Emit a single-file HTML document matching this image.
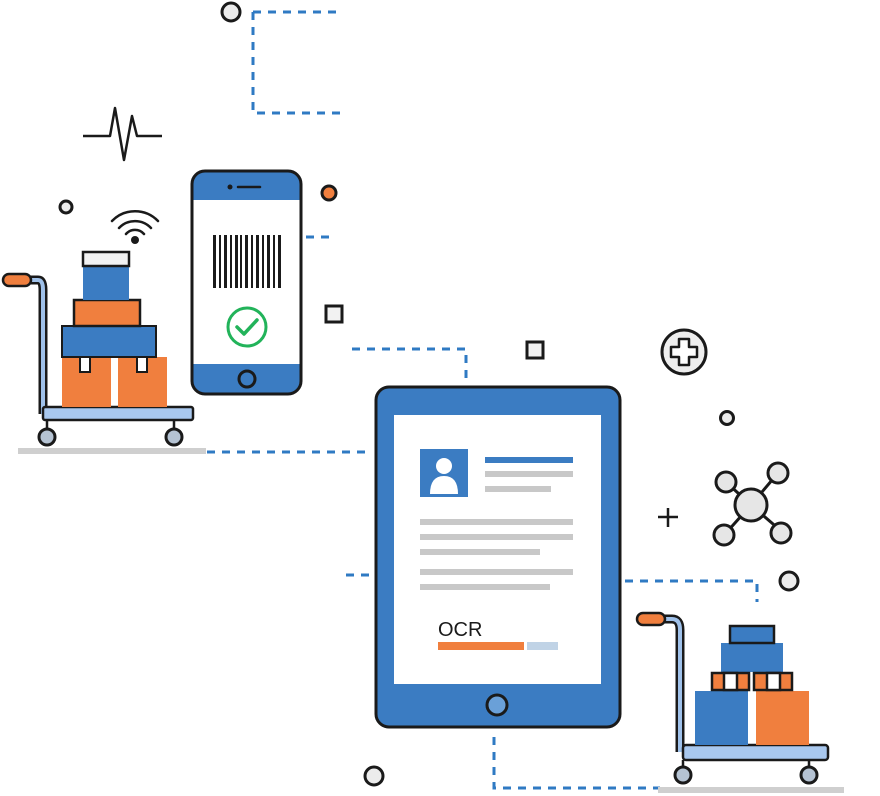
<!DOCTYPE html>
<html><head><meta charset="utf-8"><style>
html,body{margin:0;padding:0;background:#fff;}
svg{display:block;}
</style></head><body>
<svg width="880" height="796" viewBox="0 0 880 796" xmlns="http://www.w3.org/2000/svg">
<g fill="none" stroke="#2f7ac3" stroke-width="3" stroke-dasharray="8 7">
<path d="M253 12 H340 M253 12 V113 H340"/>
<path d="M306 237 H334"/>
<path d="M352 349 H466 V385"/>
<path d="M207 452 H372"/>
<path d="M346 575 H372"/>
<path d="M625 581 H757 V602"/>
<path d="M494 737 V788 H660"/>
</g>
<!-- misc circles -->
<g stroke="#1a1a1a" stroke-width="3" fill="#ececec">
<circle cx="231" cy="12" r="9"/>
<circle cx="66" cy="207" r="6"/>
<circle cx="727" cy="418" r="6.5"/>
<circle cx="789" cy="581" r="9"/>
<circle cx="374" cy="776" r="9"/>
</g>
<circle cx="329" cy="193" r="7" fill="#f07f3e" stroke="#1a1a1a" stroke-width="3"/>
<rect x="326" y="306" width="16" height="16" fill="#f2f2f2" stroke="#1a1a1a" stroke-width="3"/>
<rect x="527" y="342" width="16" height="16" fill="#f2f2f2" stroke="#1a1a1a" stroke-width="3"/>
<!-- heartbeat -->
<polyline points="83,136 110,136 115,108 124,160 132,116 137,136 162,136" fill="none" stroke="#1a1a1a" stroke-width="2.5" stroke-linejoin="round"/>
<!-- wifi -->
<g fill="none" stroke="#1a1a1a" stroke-width="2.5" stroke-linecap="round">
<path d="M112 221 A32 32 0 0 1 158 221"/>
<path d="M119 228 A22 22 0 0 1 151 228"/>
<path d="M126 234 A12 12 0 0 1 144 234"/>
</g>
<circle cx="135" cy="240" r="4" fill="#1a1a1a"/>
<!-- left cart -->
<rect x="18" y="448" width="188" height="6" fill="#cfcfcf"/>
<path d="M30 280 H38 Q43 280 43 290 V414" fill="none" stroke="#1a1a1a" stroke-width="9"/>
<path d="M30 280 H38 Q43 280 43 290 V414" fill="none" stroke="#9fc1ea" stroke-width="4"/>
<rect x="3" y="274" width="28" height="12" rx="6" fill="#f07f3e" stroke="#1a1a1a" stroke-width="2.5"/>
<rect x="43" y="407" width="150" height="13" rx="2" fill="#a9c8ee" stroke="#1a1a1a" stroke-width="2.5"/>
<line x1="47" y1="420" x2="47" y2="430" stroke="#1a1a1a" stroke-width="2.5"/>
<line x1="174" y1="420" x2="174" y2="430" stroke="#1a1a1a" stroke-width="2.5"/>
<circle cx="47" cy="437" r="8" fill="#b5c3d3" stroke="#1a1a1a" stroke-width="3"/>
<circle cx="174" cy="437" r="8" fill="#b5c3d3" stroke="#1a1a1a" stroke-width="3"/>
<rect x="62" y="357" width="49" height="50" fill="#f07f3e"/>
<rect x="118" y="357" width="49" height="50" fill="#f07f3e"/>
<rect x="62" y="326" width="94" height="31" fill="#3b7cc2" stroke="#1a1a1a" stroke-width="2"/>
<rect x="80" y="357" width="10" height="15" fill="#fff" stroke="#1a1a1a" stroke-width="2"/>
<rect x="137" y="357" width="10" height="15" fill="#fff" stroke="#1a1a1a" stroke-width="2"/>
<rect x="74" y="300" width="66" height="26" fill="#f07f3e" stroke="#1a1a1a" stroke-width="2.5"/>
<rect x="83" y="266" width="46" height="34" fill="#3b7cc2"/>
<rect x="83" y="252" width="46" height="14" fill="#f2f2f2" stroke="#1a1a1a" stroke-width="2.5"/>
<!-- phone -->
<rect x="192" y="171" width="109" height="223" rx="13" fill="#3b7cc2" stroke="#1a1a1a" stroke-width="3"/>
<rect x="193.5" y="200" width="106" height="164" fill="#fff"/>
<circle cx="230" cy="187" r="2.5" fill="#1a1a1a"/>
<line x1="238" y1="187" x2="260" y2="187" stroke="#1a1a1a" stroke-width="2.5" stroke-linecap="round"/>
<g fill="#1a1a1a">
<rect x="213" y="235" width="3" height="53"/><rect x="219" y="235" width="2" height="53"/><rect x="224" y="235" width="3" height="53"/>
<rect x="230" y="235" width="2" height="53"/><rect x="235" y="235" width="3" height="53"/><rect x="240" y="235" width="2" height="53"/>
<rect x="245" y="235" width="3" height="53"/><rect x="251" y="235" width="2" height="53"/><rect x="256" y="235" width="3" height="53"/>
<rect x="262" y="235" width="2" height="53"/><rect x="267" y="235" width="3" height="53"/><rect x="273" y="235" width="2" height="53"/>
<rect x="278" y="235" width="3" height="53"/>
</g>
<circle cx="247" cy="327" r="19" fill="none" stroke="#22b35a" stroke-width="3"/>
<polyline points="237,327 244,334 257,320" fill="none" stroke="#22b35a" stroke-width="3.5" stroke-linecap="round" stroke-linejoin="round"/>
<circle cx="247" cy="379" r="8" fill="#3b7cc2" stroke="#1a1a1a" stroke-width="3"/>
<!-- tablet -->
<rect x="376" y="387" width="244" height="340" rx="13" fill="#3b7cc2" stroke="#1a1a1a" stroke-width="3"/>
<rect x="394" y="415" width="207" height="269" fill="#fff"/>
<rect x="420" y="449" width="48" height="48" fill="#3b7cc2"/>
<circle cx="444" cy="466" r="8" fill="#fff"/>
<path d="M430 494 Q430 476 444 476 Q458 476 458 494 Z" fill="#fff"/>
<rect x="485" y="457" width="88" height="6" fill="#3b7cc2"/>
<rect x="485" y="471" width="88" height="6" fill="#c8c8c8"/>
<rect x="485" y="486" width="66" height="6" fill="#c8c8c8"/>
<rect x="420" y="519" width="153" height="6" fill="#c8c8c8"/>
<rect x="420" y="534" width="153" height="6" fill="#c8c8c8"/>
<rect x="420" y="549" width="120" height="6" fill="#c8c8c8"/>
<rect x="420" y="569" width="153" height="6" fill="#c8c8c8"/>
<rect x="420" y="584" width="130" height="6" fill="#c8c8c8"/>
<text x="438" y="636" font-family="Liberation Sans, sans-serif" font-size="20" fill="#1a1a1a">OCR</text>
<rect x="438" y="642" width="86" height="8" fill="#f07f3e"/>
<rect x="527" y="642" width="31" height="8" fill="#c0d3e6"/>
<circle cx="497" cy="705" r="10" fill="#6aa0d8" stroke="#1a1a1a" stroke-width="3"/>
<!-- medical -->
<circle cx="684" cy="352" r="22" fill="#eeeeee" stroke="#1a1a1a" stroke-width="3"/>
<path d="M679 339 H689 V347 H697 V357 H689 V365 H679 V357 H671 V347 H679 Z" fill="#fff" stroke="#1a1a1a" stroke-width="2.5" stroke-linejoin="round"/>
<!-- plus -->
<path d="M668 508 V527 M658 517 H678" stroke="#1a1a1a" stroke-width="2.5"/>
<!-- molecule -->
<g stroke="#1a1a1a" stroke-width="3">
<line x1="751" y1="505" x2="726" y2="482"/><line x1="751" y1="505" x2="778" y2="473"/>
<line x1="751" y1="505" x2="726" y2="533"/><line x1="751" y1="505" x2="780" y2="530"/>
</g>
<g stroke="#1a1a1a" stroke-width="3" fill="#e6e6e6">
<circle cx="726" cy="482" r="10"/><circle cx="778" cy="473" r="10"/>
<circle cx="724" cy="535" r="10"/><circle cx="781" cy="533" r="10"/>
<circle cx="751" cy="505" r="16"/>
</g>
<!-- right cart -->
<rect x="658" y="787" width="186" height="6" fill="#cfcfcf"/>
<path d="M664 619 H672 Q680 619 680 630 V752" fill="none" stroke="#1a1a1a" stroke-width="9"/>
<path d="M664 619 H672 Q680 619 680 630 V752" fill="none" stroke="#9fc1ea" stroke-width="4"/>
<rect x="637" y="613" width="28" height="12" rx="6" fill="#f07f3e" stroke="#1a1a1a" stroke-width="2.5"/>
<rect x="683" y="745" width="145" height="15" rx="3" fill="#a9c8ee" stroke="#1a1a1a" stroke-width="2.5"/>
<line x1="683" y1="760" x2="683" y2="768" stroke="#1a1a1a" stroke-width="2.5"/>
<line x1="809" y1="760" x2="809" y2="768" stroke="#1a1a1a" stroke-width="2.5"/>
<circle cx="683" cy="775" r="8" fill="#b5c3d3" stroke="#1a1a1a" stroke-width="3"/>
<circle cx="809" cy="775" r="8" fill="#b5c3d3" stroke="#1a1a1a" stroke-width="3"/>
<rect x="695" y="691" width="53" height="54" fill="#3b7cc2"/>
<rect x="756" y="691" width="53" height="54" fill="#f07f3e"/>
<rect x="721" y="643" width="62" height="29" fill="#3b7cc2"/>
<rect x="730" y="626" width="44" height="17" fill="#3b7cc2" stroke="#1a1a1a" stroke-width="2.5"/>
<g stroke="#1a1a1a" stroke-width="2.5">
<rect x="712" y="673" width="37" height="17" fill="#f07f3e"/>
<rect x="724" y="673" width="13" height="17" fill="#fff"/>
<rect x="754" y="673" width="38" height="17" fill="#f07f3e"/>
<rect x="767" y="673" width="13" height="17" fill="#fff"/>
</g>
</svg>
</body></html>
